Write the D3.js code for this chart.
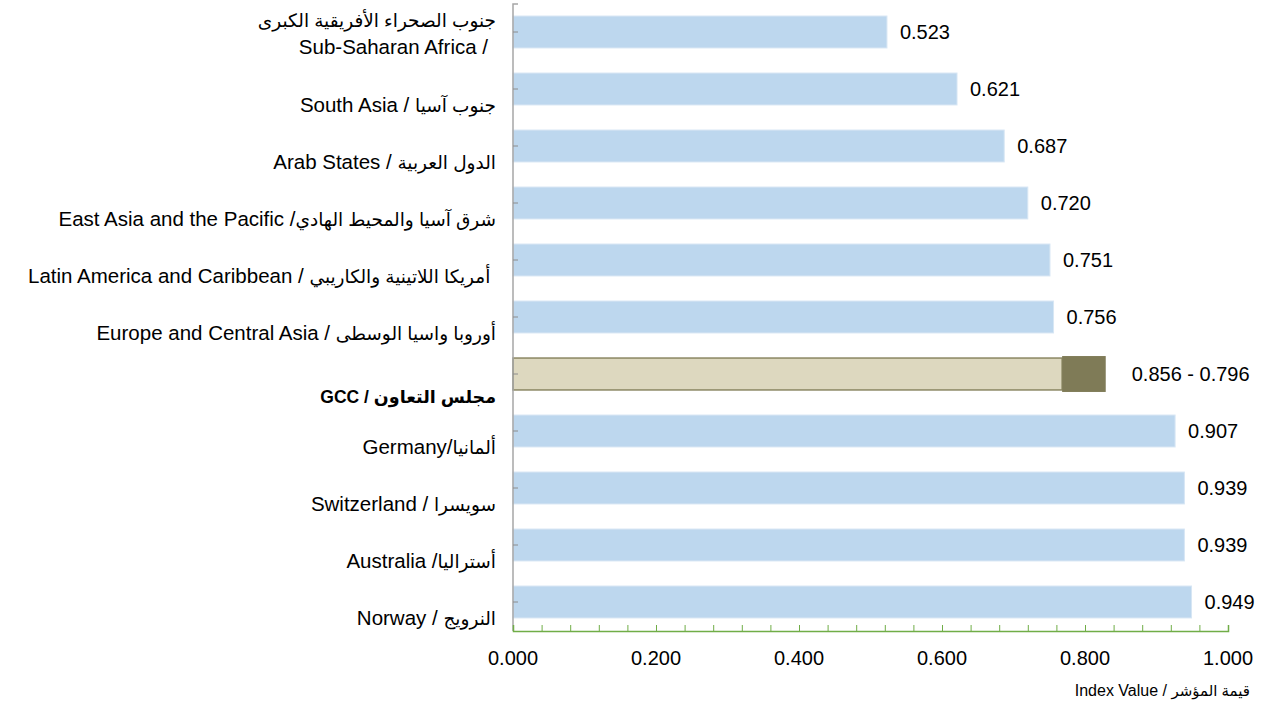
<!DOCTYPE html>
<html>
<head>
<meta charset="utf-8">
<script src="https://cdn.jsdelivr.net/npm/d3@7"></script>
<style>
    body { margin: 0; background: #fff; }
    text { font-family: Arial, 'Liberation Sans', 'DejaVu Sans', sans-serif; fill: #000; }
    .cat { font-size: 20.5px; }
    .cat .ar { font-size: 18.5px; }
    .cat.gcc, .cat.gcc .ar { font-size: 17.5px; font-weight: bold; }
    .val { font-size: 20px; }
    .tick-label { font-size: 20px; }
    .axis-title { font-size: 16px; }
    .axis-title .ar { font-size: 15px; }
</style>
</head>
<body>
<svg id="plot" width="1276" height="706"></svg>
<script>
/******************************************************************
    data
 ******************************************************************/
var categories = ['ssa', 'sasia', 'arab', 'easia', 'latam', 'europe', 'gcc',
                  'germany', 'switzerland', 'australia', 'norway'];

var labels = [
    ['جنوب الصحراء الأفريقية الكبرى', 'Sub-Saharan Africa /'],
    ['South Asia / جنوب آسيا'],
    ['Arab States / الدول العربية'],
    ['East Asia and the Pacific /شرق آسيا والمحيط الهادي'],
    ['Latin America and Caribbean /  أمريكا اللاتينية والكاريبي\u00a0'],
    ['Europe and Central Asia / أوروبا واسيا الوسطى'],
    ['GCC / مجلس التعاون'],
    ['Germany/ألمانيا'],
    ['Switzerland  / سويسرا'],
    ['Australia /أستراليا'],
    ['Norway / النرويج']
];

// bar lengths as drawn, and the numbers printed next to them
var barValues = [0.523, 0.621, 0.687, 0.720, 0.751, 0.756, null,
                 0.926, 0.939, 0.939, 0.949];
var valueLabels = ['0.523', '0.621', '0.687', '0.720', '0.751', '0.756', null,
                   '0.907', '0.939', '0.939', '0.949'];

// GCC row: drawn as a base bar plus a range block
var gccBar = [0.768, 0.829];
var gccText = '0.856 - 0.796';

var xTicks = [0, 0.2, 0.4, 0.6, 0.8, 1.0];
var xTitle = 'Index Value / قيمة المؤشر';

/******************************************************************
    helpers
 ******************************************************************/
var arabic = /([\u0600-\u06FF]+(?:\s+[\u0600-\u06FF]+)*)/;

// split a mixed string in latin / arabic runs, so each can get its own size
function runs(sel) {
    sel.selectAll('tspan')
        .data(function(d) { return d.split(arabic).filter(function(s) { return s.length; }); })
        .enter().append('tspan')
            .attr('class', function(s) { return arabic.test(s) ? 'ar' : null; })
            .text(function(s) { return s; });
}

/******************************************************************
    scales
 ******************************************************************/
var svg = d3.select('#plot');

var x = d3.scaleLinear()
    .domain([0, 1])
    .range([513, 1228]);

var y = d3.scaleBand()
    .domain(categories)
    .range([3.5, 630.5])
    .paddingInner(0.44)
    .paddingOuter(0.22);

var bw = y.bandwidth();

/******************************************************************
    bars
 ******************************************************************/
var rows = categories.map(function(c, i) {
    return { key: c, value: barValues[i], text: valueLabels[i], label: labels[i] };
});

var plain = rows.filter(function(d) { return d.value !== null; });

svg.append('g')
    .selectAll('rect')
    .data(plain)
    .enter().append('rect')
        .attr('x', x(0))
        .attr('y', function(d) { return y(d.key); })
        .attr('width', function(d) { return x(d.value) - x(0); })
        .attr('height', bw)
        .attr('fill', '#bdd7ee')
        .attr('stroke', '#d7e6f4')
        .attr('stroke-width', 1);

svg.append('g')
    .selectAll('text')
    .data(plain)
    .enter().append('text')
        .attr('class', 'val')
        .attr('x', function(d) { return x(d.value) + 13; })
        .attr('y', function(d) { return y(d.key) + bw / 2; })
        .attr('dy', '.35em')
        .text(function(d) { return d.text; });

// GCC range bar
svg.append('rect')
    .attr('x', x(0))
    .attr('y', y('gcc'))
    .attr('width', x(gccBar[0]) - x(0))
    .attr('height', bw)
    .attr('fill', '#ddd8bf')
    .attr('stroke', '#8b8763')
    .attr('stroke-width', 1.5);

svg.append('rect')
    .attr('x', x(gccBar[0]))
    .attr('y', y('gcc') - 2)
    .attr('width', x(gccBar[1]) - x(gccBar[0]))
    .attr('height', bw + 4)
    .attr('fill', '#7f7b57');

svg.append('text')
    .attr('class', 'val')
    .attr('x', x(gccBar[1]) + 26)
    .attr('y', y('gcc') + bw / 2)
    .attr('dy', '.35em')
    .text(gccText);

/******************************************************************
    y axis
 ******************************************************************/
var yAxis = svg.append('g');

yAxis.append('path')
    .attr('d', 'M' + (x(0) + 5) + ' 4 L' + x(0) + ' 4 L' + x(0) + ' 631')
    .attr('fill', 'none')
    .attr('stroke', '#a6a6a6')
    .attr('stroke-width', 1.5);

yAxis.selectAll('line')
    .data(categories)
    .enter().append('line')
        .attr('x1', x(0))
        .attr('x2', x(0) + 5)
        .attr('y1', function(d) { return y(d) + bw / 2; })
        .attr('y2', function(d) { return y(d) + bw / 2; })
        .attr('stroke', '#8c8c8c')
        .attr('stroke-width', 1);

var cat = svg.append('g')
    .selectAll('g')
    .data(rows)
    .enter().append('g');

cat.selectAll('text')
    .data(function(d) {
        var c = y(d.key) + bw / 2;
        return d.label.map(function(s, i) {
            var yy = d.label.length > 1 ? c - 12 + i * 27 :
                        d.key === 'gcc' ? c + 23 : c + 16;
            return { key: d.key, text: s, line: i, y: yy };
        });
    })
    .enter().append('text')
        .attr('class', function(d) { return d.key === 'gcc' ? 'cat gcc' : 'cat'; })
        .attr('text-anchor', 'end')
        .attr('direction', 'ltr')
        .attr('x', function(d) { return d.line ? 488 : 496; })
        .attr('y', function(d) { return d.y; })
        .attr('dy', '.35em')
        .datum(function(d) { return d.text; })
        .call(runs);

/******************************************************************
    x axis
 ******************************************************************/
var xAxis = d3.axisBottom(x)
    .tickValues(d3.range(0, 1.0001, 0.04))
    .tickSize(-6)
    .tickFormat('');

svg.append('g')
    .attr('class', 'x axis')
    .attr('transform', 'translate(0,631)')
    .call(xAxis)
    .call(function(g) {
        g.select('.domain').attr('stroke', '#70ad47').attr('stroke-width', 1.5);
        g.selectAll('.tick line').attr('stroke', '#70ad47');
    });

svg.append('g')
    .selectAll('text')
    .data(xTicks)
    .enter().append('text')
        .attr('class', 'tick-label')
        .attr('text-anchor', 'middle')
        .attr('x', function(d) { return x(d); })
        .attr('y', 658)
        .attr('dy', '.35em')
        .text(d3.format('.3f'));

svg.append('text')
    .attr('class', 'axis-title')
    .attr('text-anchor', 'end')
    .attr('direction', 'ltr')
    .attr('x', 1250)
    .attr('y', 690)
    .attr('dy', '.35em')
    .datum(xTitle)
    .call(runs);
</script>
</body>
</html>
